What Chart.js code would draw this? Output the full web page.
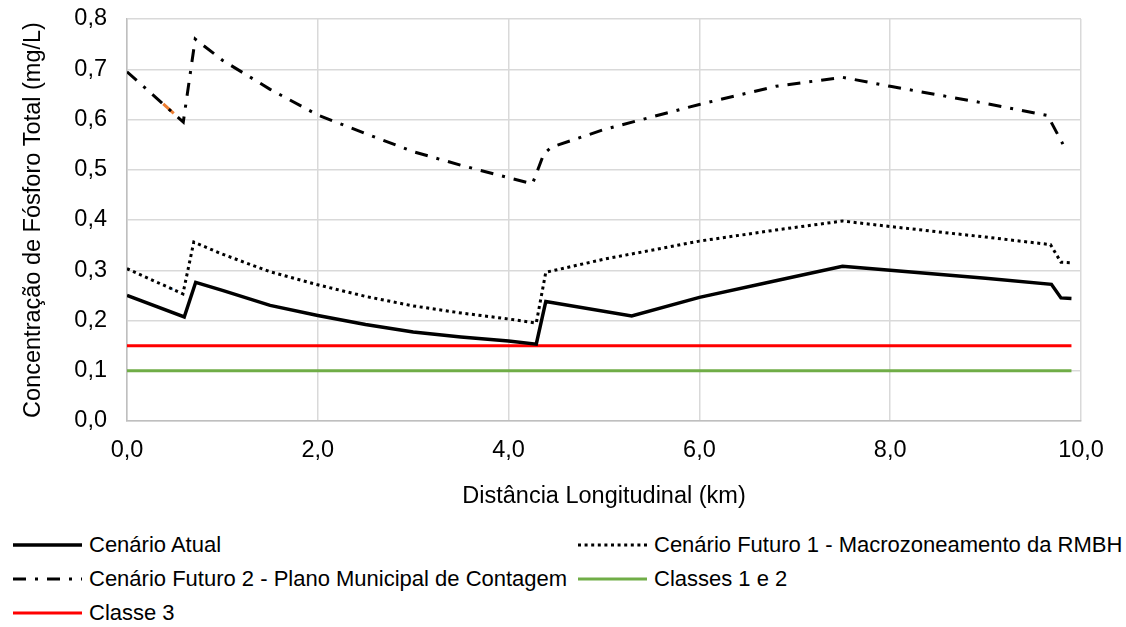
<!DOCTYPE html>
<html>
<head>
<meta charset="utf-8">
<script src="https://cdn.jsdelivr.net/npm/chart.js@4.4.0/dist/chart.umd.min.js"></script>
<style>
  html, body { margin: 0; padding: 0; background: #fff; }
  #wrap { position: relative; width: 1126px; height: 627px; font-family: "Liberation Sans", Arial, sans-serif; }
  #chartBox { position: absolute; left: 0; top: 0; width: 1126px; height: 520px; }
  .leg { position: absolute; display: flex; align-items: center; font-size: 22px; color: #000; white-space: nowrap; height: 30px; }
  .leg svg { margin-right: 7px; }
</style>
</head>
<body>
<div id="wrap">
  <div id="chartBox"><canvas id="lineChart" width="1126" height="520"></canvas></div>
  <div id="legend"></div>
</div>
<script>
// distances (km) and concentrations (mg/L)
const kmAtual = [0, 0.60, 0.72, 1.0, 1.5, 2.0, 2.5, 3.0, 3.5, 4.0, 4.29, 4.39, 5.29, 6.0, 6.8, 7.5, 8.0, 9.0, 9.69, 9.79, 9.9];
const valAtual = [0.250, 0.207, 0.276, 0.260, 0.230, 0.210, 0.192, 0.177, 0.167, 0.159, 0.153, 0.238, 0.209, 0.246, 0.279, 0.308, 0.300, 0.284, 0.272, 0.245, 0.244];

const kmFuturo1 = [0, 0.586, 0.70, 1.0, 1.5, 2.0, 2.5, 3.0, 3.5, 4.0, 4.29, 4.39, 5.0, 6.0, 6.8, 7.5, 8.0, 9.0, 9.68, 9.79, 9.9];
const valFuturo1 = [0.303, 0.253, 0.356, 0.332, 0.297, 0.271, 0.248, 0.229, 0.215, 0.203, 0.195, 0.296, 0.322, 0.358, 0.380, 0.398, 0.387, 0.366, 0.351, 0.316, 0.315];

const kmFuturo2 = [0, 0.59, 0.715, 1.0, 1.5, 2.0, 2.5, 3.0, 3.5, 4.0, 4.25, 4.37, 4.45, 5.0, 6.0, 6.8, 7.5, 8.0, 9.0, 9.65, 9.81];
const valFuturo2 = [0.695, 0.595, 0.760, 0.718, 0.660, 0.609, 0.572, 0.536, 0.509, 0.484, 0.472, 0.532, 0.545, 0.580, 0.630, 0.666, 0.684, 0.666, 0.632, 0.608, 0.551];

const kmClasse = [0, 9.9];
const valClasse12 = [0.10, 0.10];
const valClasse3 = [0.15, 0.15];

// small coloured leftovers visible on the reference lines
const kmOrange = [0.38, 0.49];
const valOrange = [0.631, 0.612];
const kmBlue = [0.45, 0.48];
const valBlue = [0.265, 0.262];

const xTicks = [0, 2, 4, 6, 8, 10];
const yTicks = [0, 0.1, 0.2, 0.3, 0.4, 0.5, 0.6, 0.7, 0.8];

const fontFam = '"Liberation Sans", Arial, sans-serif';
const fmt = v => Number(v).toFixed(1).replace('.', ',');
const pts = (xs, ys) => xs.map((x, i) => ({ x: x, y: ys[i] }));

const series = [
    { label: 'Cenário Atual', data: pts(kmAtual, valAtual), color: '#000000', width: 3.5, dash: [] },
    { label: 'Cenário Futuro 1 - Macrozoneamento da RMBH', data: pts(kmFuturo1, valFuturo1), color: '#000000', width: 3, dash: [3, 3.6] },
    { label: 'Cenário Futuro 2 - Plano Municipal de Contagem', data: pts(kmFuturo2, valFuturo2), color: '#000000', width: 3, dash: [13, 9, 3, 9] },
    { label: 'Classes 1 e 2', data: pts(kmClasse, valClasse12), color: '#70AD47', width: 3, dash: [] },
    { label: 'Classe 3', data: pts(kmClasse, valClasse3), color: '#FF0000', width: 3, dash: [] }
];

const datasets = series.map(s => ({
    label: s.label,
    data: s.data,
    borderColor: s.color,
    borderWidth: s.width,
    borderDash: s.dash,
    borderCapStyle: 'butt',
    fill: false,
    pointRadius: 0,
    tension: 0
}));
datasets.push({ label: '', data: pts(kmOrange, valOrange), borderColor: '#ED7D31', borderWidth: 3, pointRadius: 0, fill: false });
datasets.push({ label: '', data: pts(kmBlue, valBlue), borderColor: '#5B9BD5', borderWidth: 2, pointRadius: 0, fill: false });

new Chart(document.getElementById('lineChart').getContext('2d'), {
    type: 'line',
    data: { datasets: datasets },
    options: {
        responsive: false,
        animation: false,
        layout: { padding: { left: 19, right: 45, top: 19, bottom: 0 } },
        plugins: { legend: { display: false }, tooltip: { enabled: false } },
        scales: {
            x: {
                type: 'linear',
                min: 0,
                max: 10,
                afterBuildTicks: s => { s.ticks = xTicks.map(v => ({ value: v })); },
                afterFit: s => { s.height = 99; },
                ticks: { padding: 15, color: '#000', font: { size: 23.5, family: fontFam }, callback: v => fmt(v), maxRotation: 0 },
                grid: { color: '#d9d9d9', lineWidth: 1.5, drawTicks: false },
                border: { color: '#bfbfbf', width: 1.5 },
                title: { display: true, text: 'Distância Longitudinal (km)', color: '#000', font: { size: 23.5, family: fontFam }, padding: { top: 20, bottom: 9 } }
            },
            y: {
                min: 0,
                max: 0.8,
                afterBuildTicks: s => { s.ticks = yTicks.map(v => ({ value: v })); },
                afterFit: s => { s.width = 108; s.paddingTop = 0; s.paddingBottom = 0; },
                ticks: { padding: 20, color: '#000', font: { size: 23.5, family: fontFam }, callback: v => fmt(v) },
                grid: { color: '#d9d9d9', lineWidth: 1.5, drawTicks: false },
                border: { color: '#bfbfbf', width: 1.5 },
                title: { display: true, text: 'Concentração de Fósforo Total (mg/L)', color: '#000', font: { size: 23.5, family: fontFam }, padding: { top: 0, bottom: 0 } }
            }
        }
    }
});

// legend laid out in two columns like the original
const legendPos = [[13, 545], [578, 545], [13, 579], [578, 579], [13, 613]];
const legendBox = document.getElementById('legend');
series.forEach((s, i) => {
    const item = document.createElement('div');
    item.className = 'leg';
    item.style.left = legendPos[i][0] + 'px';
    item.style.top = (legendPos[i][1] - 15) + 'px';
    const dash = s.dash.length ? ' stroke-dasharray="' + s.dash.join(' ') + '"' : '';
    item.innerHTML = '<svg width="69" height="8"><line x1="0" y1="4" x2="69" y2="4" stroke="' + s.color + '" stroke-width="' + s.width + '"' + dash + '/></svg>';
    const txt = document.createElement('span');
    txt.textContent = s.label;
    item.appendChild(txt);
    legendBox.appendChild(item);
});
</script>
</body>
</html>
